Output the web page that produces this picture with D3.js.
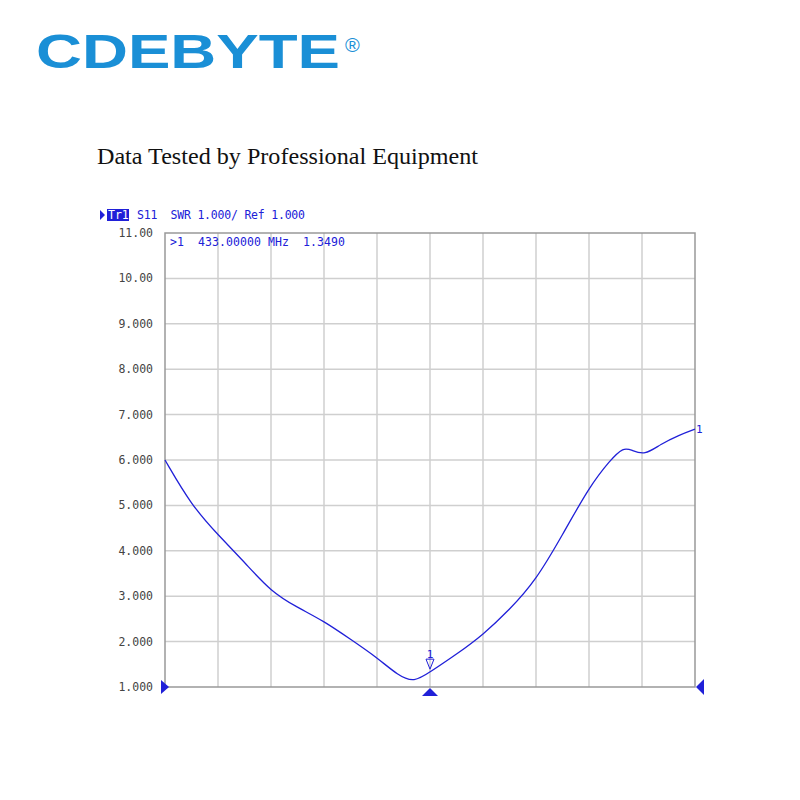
<!DOCTYPE html>
<html><head><meta charset="utf-8">
<script src="https://cdn.jsdelivr.net/npm/d3@7"></script>
<style>body{margin:0;background:#fff} text{white-space:pre}</style>
</head><body><svg width="800" height="800"></svg>
<script>
// grid position (0..10 divisions) and SWR
let xDiv = [0, 0.5, 1.0, 1.5, 2.0, 2.5, 3.0, 3.5, 4.0, 4.4, 4.7, 5.0, 5.5, 6.0, 6.5, 7.0, 7.5, 8.0, 8.4, 8.65, 8.8, 9.05, 9.35, 9.7, 10];
let swr = [6.0, 5.0, 4.35, 3.75, 3.1, 2.75, 2.45, 2.05, 1.65, 1.25, 1.1, 1.33, 1.72, 2.15, 2.7, 3.35, 4.35, 5.4, 6.0, 6.28, 6.22, 6.1, 6.35, 6.55, 6.68];
let yTicks = [11, 10, 9, 8, 7, 6, 5, 4, 3, 2, 1];
let yLabels = ["11.00", "10.00", "9.000", "8.000", "7.000", "6.000", "5.000", "4.000", "3.000", "2.000", "1.000"];

let svg = d3.select('svg');
let pLeft = 165, pRight = 695, pTop = 233, pBottom = 687;
let x = d3.scaleLinear().domain([0, 10]).range([pLeft, pRight]);
let y = d3.scaleLinear().domain([1, 11]).range([pBottom, pTop]);
let blue = '#2020d8';

svg.append('text').attr('x', 36).attr('y', 68).text('CDEBYTE')
  .attr('font-family', 'Liberation Sans, Arial').attr('font-weight', 'bold')
  .attr('font-size', 48).attr('fill', '#1a8fd6').attr('textLength', 304).attr('lengthAdjust', 'spacingAndGlyphs');
svg.append('text').attr('x', 345).attr('y', 52).text('®')
  .attr('font-family', 'Liberation Sans').attr('font-size', 20).attr('fill', '#1a8fd6');
svg.append('text').attr('x', 97).attr('y', 164).text('Data Tested by Professional Equipment')
  .attr('font-family', 'Liberation Serif, Times New Roman').attr('font-size', 23).attr('fill', '#111')
  .attr('textLength', 381).attr('lengthAdjust', 'spacingAndGlyphs');

// grid
svg.append('g').selectAll('line').data(d3.range(1, 10)).enter().append('line')
  .attr('x1', d => x(d)).attr('x2', d => x(d)).attr('y1', pTop).attr('y2', pBottom)
  .attr('stroke', '#cfcfcf').attr('stroke-width', 1.5);
svg.append('g').selectAll('line').data(yTicks.slice(1, -1)).enter().append('line')
  .attr('x1', pLeft).attr('x2', pRight).attr('y1', d => y(d)).attr('y2', d => y(d))
  .attr('stroke', '#cfcfcf').attr('stroke-width', 1.5);
svg.append('rect').attr('x', pLeft).attr('y', pTop).attr('width', pRight - pLeft).attr('height', pBottom - pTop)
  .attr('fill', 'none').attr('stroke', '#999').attr('stroke-width', 1.5);

let font = 'DejaVu Sans Mono';
svg.append('g').selectAll('text').data(yTicks).enter().append('text')
  .attr('x', 153).attr('y', d => y(d) + 4).attr('text-anchor', 'end')
  .attr('font-family', font).attr('font-size', 11.5).attr('fill', '#444')
  .text((d, i) => yLabels[i]);

// header
svg.append('path').attr('d', 'M100,210 L105,215 L100,220 Z').attr('fill', blue);
svg.append('rect').attr('x', 107).attr('y', 209).attr('width', 22).attr('height', 12).attr('fill', blue);
svg.append('text').attr('x', 108).attr('y', 219).text('Tr1').attr('font-family', font).attr('font-size', 11.5).attr('fill', '#fff');
svg.append('text').attr('x', 137).attr('y', 219).text('S11  SWR 1.000/ Ref 1.000').attr('font-family', font).attr('font-size', 11.5).attr('fill', blue).attr('textLength', 168);
svg.append('text').attr('x', 170).attr('y', 246).text('>1  433.00000 MHz  1.3490').attr('font-family', font).attr('font-size', 11.5).attr('fill', blue).attr('textLength', 175);

// trace
svg.append('path').datum(d3.zip(xDiv, swr))
  .attr('d', d3.line().x(d => x(d[0])).y(d => y(d[1])).curve(d3.curveBasis))
  .attr('fill', 'none').attr('stroke', blue).attr('stroke-width', 1.3);

// markers
let mx = x(5), my = y(1.349);
svg.append('path').attr('d', `M${mx-4},${my-12} L${mx+4},${my-12} L${mx},${my-2} Z`).attr('fill', 'none').attr('stroke', blue);
svg.append('text').attr('x', mx).attr('y', my - 13).attr('text-anchor', 'middle').text('1').attr('font-family', font).attr('font-size', 11).attr('fill', blue);
svg.append('text').attr('x', pRight + 1).attr('y', y(6.68) + 4).text('1').attr('font-family', font).attr('font-size', 11).attr('fill', blue);
svg.append('path').attr('d', `M${mx-8},${pBottom+9} L${mx+8},${pBottom+9} L${mx},${pBottom+1} Z`).attr('fill', blue);
svg.append('path').attr('d', `M${pLeft-4},${pBottom-7} L${pLeft+4},${pBottom} L${pLeft-4},${pBottom+7} Z`).attr('fill', blue);
svg.append('path').attr('d', `M${pRight+9},${pBottom-8} L${pRight+1},${pBottom} L${pRight+9},${pBottom+8} Z`).attr('fill', blue);
</script></body></html>
